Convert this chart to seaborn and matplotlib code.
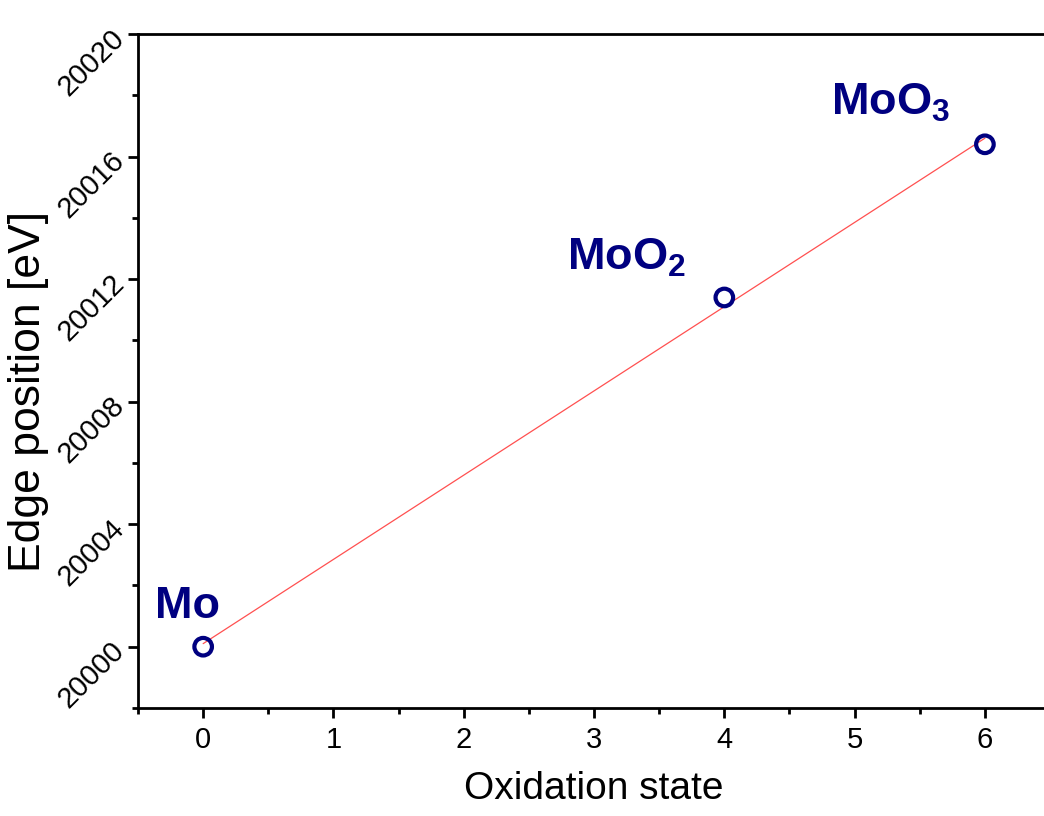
import numpy as np
import pandas as pd
import matplotlib
matplotlib.use("Agg")
import matplotlib.pyplot as plt
from matplotlib.ticker import MultipleLocator
import seaborn as sns

# Mo K-edge positions versus formal oxidation state
compounds = ["Mo", "MoO$_2$", "MoO$_3$"]
oxidation_state = [0, 4, 6]
edge_position = [20000.0, 20011.4, 20016.4]

df = pd.DataFrame({"ox": oxidation_state, "edge": edge_position, "name": compounds})

sns.set_style("ticks")
plt.rcParams["font.family"] = ["Liberation Sans", "DejaVu Sans"]
plt.rcParams["mathtext.fontset"] = "custom"
plt.rcParams["mathtext.rm"] = "Liberation Sans:bold"
plt.rcParams["mathtext.bf"] = "Liberation Sans:bold"
plt.rcParams["text.color"] = "black"
plt.rcParams["axes.labelcolor"] = "black"
plt.rcParams["xtick.color"] = "black"
plt.rcParams["ytick.color"] = "black"

fig = plt.figure(figsize=(10.44, 8.16), dpi=100)
ax = fig.add_axes([0.1322, 0.1324, 0.8736, 0.8259])

# linear fit through the three edge positions
slope, intercept = np.polyfit(df["ox"], df["edge"], 1)
fit = pd.DataFrame({"ox": [df["ox"].min(), df["ox"].max()]})
fit["edge"] = intercept + slope * fit["ox"]
sns.lineplot(data=fit, x="ox", y="edge", ax=ax, color="#ff5050", linewidth=0.9, zorder=2)

sns.scatterplot(data=df, x="ox", y="edge", ax=ax, s=160, facecolor="none",
                edgecolor="#000080", linewidth=3.0, zorder=3)

navy = "#000080"
label_offsets = {"Mo": (-0.37, 0.95), "MoO$_2$": (-1.21, 0.9), "MoO$_3$": (-1.18, 0.95)}
for name, x, y in zip(df["name"], df["ox"], df["edge"]):
    dx, dy = label_offsets[name]
    ax.text(x + dx, y + dy, name, color=navy, fontsize=32.5, fontweight="bold",
            ha="left", va="baseline")

ax.set_xlim(-0.5, 6.5)
ax.set_ylim(19998, 20020)
ax.xaxis.set_major_locator(MultipleLocator(1))
ax.xaxis.set_minor_locator(MultipleLocator(0.5))
ax.yaxis.set_major_locator(MultipleLocator(4))
ax.yaxis.set_minor_locator(MultipleLocator(2))
ax.ticklabel_format(axis="y", useOffset=False, style="plain")

for side in ["left", "bottom", "top"]:
    ax.spines[side].set_linewidth(2.0)
    ax.spines[side].set_color("black")
ax.spines["right"].set_visible(False)

ax.tick_params(which="major", length=7, width=2.0, labelsize=21, direction="out",
               top=False, right=False, pad=6)
ax.tick_params(which="minor", length=4.5, width=2.0, direction="out", top=False, right=False)

for lbl in ax.get_yticklabels():
    lbl.set_rotation(45)
    lbl.set_rotation_mode("anchor")
    lbl.set_ha("right")
    lbl.set_va("center")

ax.set_xlabel("Oxidation state", fontsize=28, labelpad=12)
ax.set_ylabel("Edge position [eV]", fontsize=32)
ax.yaxis.set_label_coords(-0.098, 0.47)

fig.savefig("out.png", dpi=100)
